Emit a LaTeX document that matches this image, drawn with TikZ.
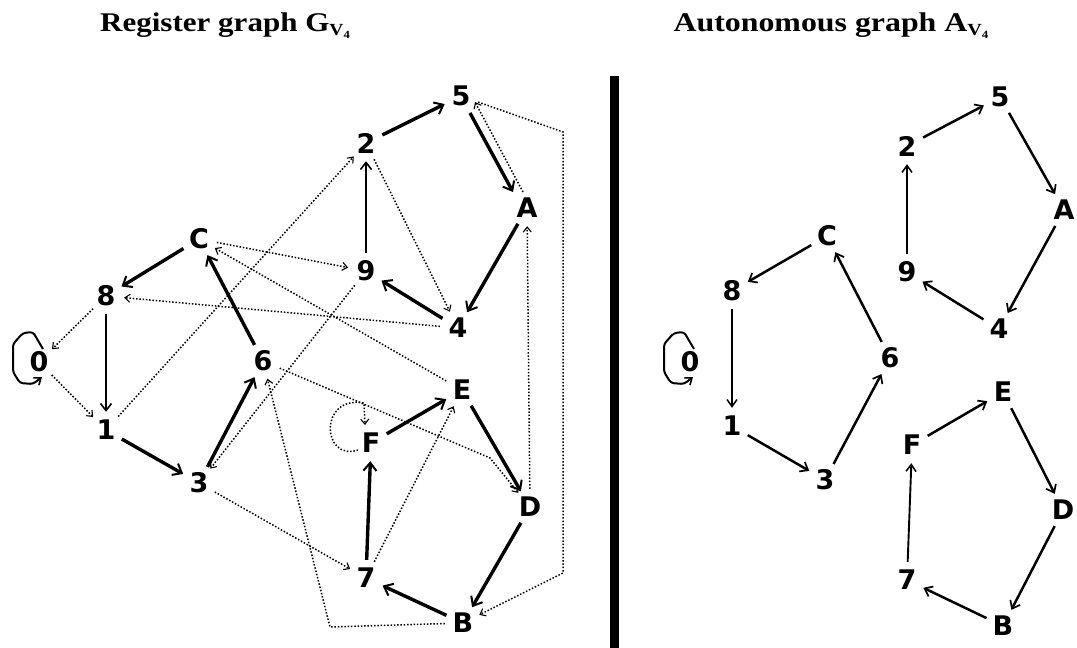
\documentclass[tikz,border=0pt]{standalone}
\usepackage{fontspec}
\setmainfont{Liberation Serif}
\newfontfamily\labfont{DejaVu Sans}
\usetikzlibrary{arrows.meta,calc}
\newcommand\vfour{\raisebox{-4pt}{\fontsize{17}{17}\selectfont V\raisebox{-3pt}{\fontsize{11}{11}\selectfont 4}}}
\begin{document}
\begin{tikzpicture}[x=1pt,y=-1pt,
  v/.style={circle,inner sep=0pt,minimum size=36pt,font=\labfont\bfseries\fontsize{27}{27}\selectfont},
  ttl/.style={anchor=base,font=\bfseries\fontsize{27}{27}\selectfont},
  sol/.style={line width=3.4pt,-{Straight Barb[length=8pt,width=13pt,line width=2pt]}},
  solthin/.style={line width=2.1pt,-{Straight Barb[length=7pt,width=11pt,line width=1.6pt]}},
  rsol/.style={line width=2.5pt,-{Straight Barb[length=7pt,width=11pt,line width=1.7pt]}},
  rthin/.style={line width=1.9pt,-{Straight Barb[length=7pt,width=10pt,line width=1.5pt]}},
  dot/.style={line width=1.5pt,dash pattern=on 1.5pt off 1.8pt,-{Straight Barb[length=5pt,width=8pt,line width=1.1pt]}},
  loopst/.style={line width=2pt,rounded corners=3pt,-{Straight Barb[length=6pt,width=9pt,line width=1.6pt]}}
]
\useasboundingbox (0,0) rectangle (1077,648);

% titles
\node[ttl] (t1) at (225,31) {\scalebox{1.15}[1]{Register graph G\vfour}};
\node[ttl] (t2) at (831,31) {\scalebox{1.18}[1]{Autonomous graph A\vfour}};

% separator
\fill (610,76) rectangle (619,648);

% ---------------- left graph ----------------
\node[v] (g5) at (461,96) {5};
\node[v] (g2) at (366,143) {2};
\node[v] (gA) at (527,208) {A};
\node[v] (g9) at (366,271) {9};
\node[v] (g4) at (458,328) {4};
\node[v] (gC) at (199,239) {C};
\node[v] (g8) at (106,296) {8};
\node[v] (g0) at (39,362) {0};
\node[v] (g1) at (106,430) {1};
\node[v] (g3) at (199,483) {3};
\node[v] (g6) at (263,361) {6};
\node[v] (gE) at (462,390) {E};
\node[v] (gF) at (371,443) {F};
\node[v] (gD) at (530,507) {D};
\node[v] (g7) at (366,578) {7};
\node[v] (gB) at (463,623) {B};

\coordinate (k1) at (563,132);
\coordinate (k2) at (563,573);
\coordinate (k3) at (330,627);
\coordinate (k4) at (490,458);

% dotted edges
\draw[dot] ($(gA)+(-4,-16)$) -- ($(g5)+(14,6)$);
\draw[dot] (g5) -- (k1) -- (k2) -- (gB);
\draw[dot] (gD) -- (gA);
\draw[dot] (g2) -- (g4);
\draw[dot] (g1) -- (g2);
\draw[dot] (g0) -- (g1);
\draw[dot] (g8) -- (g0);
\draw[dot] (g4) -- (g8);
\draw[dot] (gC) -- (g9);
\draw[dot] (gE) -- (gC);
\draw[dot] (g6) -- (k4) -- (gD);
\draw[dot] (g9) -- (g3);
\draw[dot] (g3) -- (g7);
\draw[dot] (g7) -- (gE);
\draw[dot] (gB) -- (k3) -- (g6);
\draw[dot] ($(gF)+(-13,7)$) .. controls ($(gF)+(-49,19)$) and ($(gF)+(-53,-48)$) .. ($(gF)+(-7,-40)$) -- ($(gF)+(-6,-18)$);

% solid edges
\draw[sol] (g2) -- (g5);
\draw[sol] ($(g5)+(9,17)$) -- ($(gA)+(-14,-16)$);
\draw[sol] (gA) -- (g4);
\draw[sol] (g4) -- (g9);
\draw[solthin] (g9) -- (g2);
\draw[sol] (gC) -- (g8);
\draw[solthin] (g8) -- (g1);
\draw[sol] (g1) -- (g3);
\draw[sol] (g3) -- (g6);
\draw[sol] (g6) -- (gC);
\draw[sol] (gF) -- (gE);
\draw[sol] (gE) -- (gD);
\draw[sol] (gD) -- (gB);
\draw[sol] (gB) -- (g7);
\draw[sol] (g7) -- (gF);
\draw[loopst] ($(g0)+(4,-13)$) -- ($(g0)+(-6,-30)$) -- ($(g0)+(-16,-29)$) -- ($(g0)+(-26,-18)$) -- ($(g0)+(-26,10)$) -- ($(g0)+(-19,21)$) -- ($(g0)+(-6,22)$) -- ($(g0)+(3,15)$);

% ---------------- right graph ----------------
\node[v] (a5) at (1000,97) {5};
\node[v] (a2) at (907,146) {2};
\node[v] (aA) at (1064,210) {A};
\node[v] (a9) at (907,272) {9};
\node[v] (a4) at (999,329) {4};
\node[v] (aC) at (827,236) {C};
\node[v] (a8) at (732,291) {8};
\node[v] (a0) at (690,362) {0};
\node[v] (a1) at (732,426) {1};
\node[v] (a3) at (825,480) {3};
\node[v] (a6) at (890,358) {6};
\node[v] (aE) at (1003,392) {E};
\node[v] (aF) at (912,445) {F};
\node[v] (aD) at (1063,510) {D};
\node[v] (a7) at (907,580) {7};
\node[v] (aB) at (1003,626) {B};

\draw[rsol] (a2) -- (a5);
\draw[rsol] (a5) -- (aA);
\draw[rsol] (aA) -- (a4);
\draw[rsol] (a4) -- (a9);
\draw[rthin] (a9) -- (a2);
\draw[rsol] (aC) -- (a8);
\draw[rthin] (a8) -- (a1);
\draw[rsol] (a1) -- (a3);
\draw[rsol] (a3) -- (a6);
\draw[rsol] (a6) -- (aC);
\draw[rsol] (aF) -- (aE);
\draw[rsol] (aE) -- (aD);
\draw[rsol] (aD) -- (aB);
\draw[rsol] (aB) -- (a7);
\draw[rthin] (a7) -- (aF);
\draw[loopst] ($(a0)+(4,-13)$) -- ($(a0)+(-6,-30)$) -- ($(a0)+(-16,-29)$) -- ($(a0)+(-26,-18)$) -- ($(a0)+(-26,10)$) -- ($(a0)+(-19,21)$) -- ($(a0)+(-6,22)$) -- ($(a0)+(3,15)$);
\end{tikzpicture}
\end{document}
